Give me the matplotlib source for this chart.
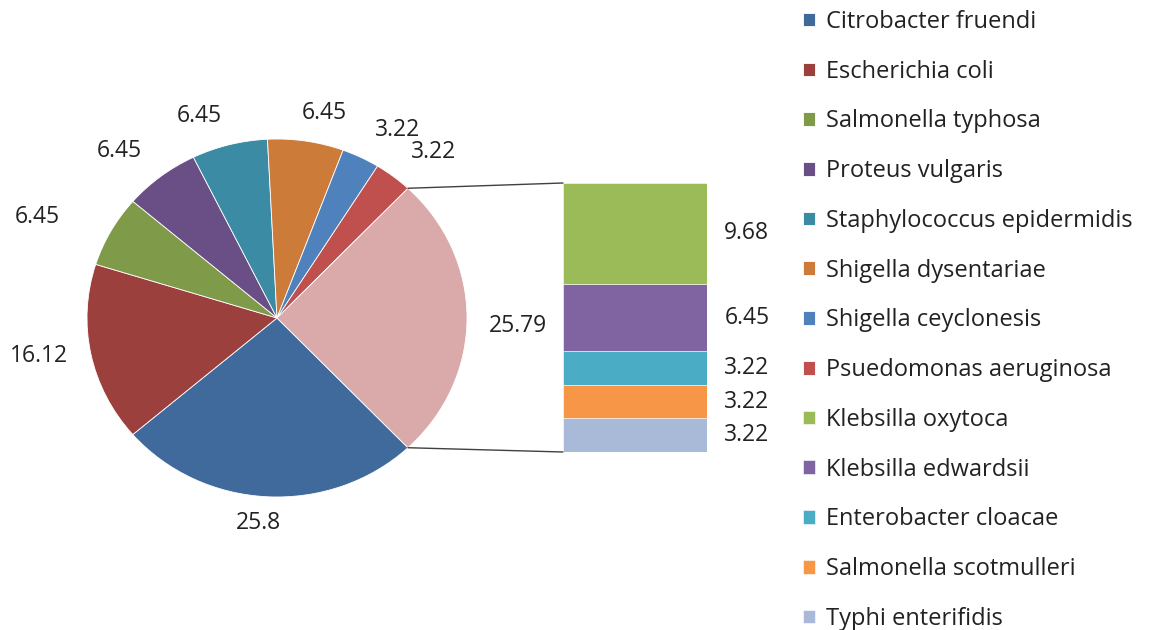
import matplotlib.pyplot as plt
import numpy as np
from matplotlib.patches import ConnectionPatch

plt.rcParams['font.family'] = ['Open Sans', 'DejaVu Sans']

# main pie slices (clockwise, Excel style)
pie_names = ['Citrobacter fruendi', 'Escherichia coli', 'Salmonella typhosa',
             'Proteus vulgaris', 'Staphylococcus epidermidis', 'Shigella dysentariae',
             'Shigella ceyclonesis', 'Psuedomonas aeruginosa']
pie_values = [25.8, 16.12, 6.45, 6.45, 6.45, 6.45, 3.22, 3.22]
pie_colors = ['#406A9C', '#9C403E', '#7F9A48', '#694F86',
              '#3A8BA3', '#CC7B39', '#4F81BD', '#C0504D']

# secondary stacked bar = the "other" slice
bar_names = ['Klebsilla oxytoca', 'Klebsilla edwardsii', 'Enterobacter cloacae',
             'Salmonella scotmulleri', 'Typhi enterifidis']
bar_values = [9.68, 6.45, 3.22, 3.22, 3.22]
bar_colors = ['#9BBB59', '#8064A2', '#4BACC6', '#F79646', '#A9B9D8']
other_color = '#DAA9AA'

# label placement tweaks (radius, angle shift in deg), last one is "other"
lab_r = [1.15, 1.27, 1.38, 1.25, 1.20, 1.17, 1.23, 1.24, 1.27]
lab_shift = [-2, -2, 5, 4, 5.5, -3.5, -5, -4, -2]

W, H = 1162, 630
fig = plt.figure(figsize=(W / 100, H / 100), dpi=100)

# pie is a bit wider than tall in the original
cx, cy, rx, ry = 277, 318, 190, 179
ax = fig.add_axes([(cx - rx) / W, 1 - (cy + ry) / H, 2 * rx / W, 2 * ry / H])

other = round(sum(bar_values), 2)
values = pie_values + [other]
colors = pie_colors + [other_color]
start = -other / sum(values) * 180
wedges, _ = ax.pie(values, colors=colors, startangle=start, counterclock=False,
                   radius=1, wedgeprops=dict(edgecolor='white', linewidth=0.6))
ax.set_aspect('auto')
ax.set_xlim(-1, 1)
ax.set_ylim(-1, 1)
ax.axis('off')

for i, w in enumerate(wedges):
    mid = np.deg2rad((w.theta1 + w.theta2) / 2 + lab_shift[i])
    ax.text(lab_r[i] * np.cos(mid), lab_r[i] * np.sin(mid), f'{values[i]:g}',
            ha='center', va='center', fontsize=16.5, color='#222222', clip_on=False)

# stacked bar
bx0, by0, bw, bh = 563, 183, 144, 269
ax2 = fig.add_axes([bx0 / W, 1 - (by0 + bh) / H, bw / W, bh / H])
bottom = 0
bar_patches = {}
for name, v, c in reversed(list(zip(bar_names, bar_values, bar_colors))):
    b = ax2.bar(0.5, v, bottom=bottom, width=1, color=c, edgecolor='white', linewidth=0.4)
    bar_patches[name] = b[0]
    ax2.text(1.12, bottom + v / 2, f'{v:g}', ha='left', va='center',
             fontsize=16.5, color='#222222', clip_on=False)
    bottom += v
ax2.set_xlim(0, 1)
ax2.set_ylim(0, other)
ax2.axis('off')

# connector lines from the "other" slice to the bar
ang = np.deg2rad(-start)
for sgn, yb in [(1, other), (-1, 0)]:
    con = ConnectionPatch(xyA=(np.cos(ang), sgn * np.sin(ang)), coordsA=ax.transData,
                          xyB=(0, yb), coordsB=ax2.transData, color='#404040', lw=1)
    fig.add_artist(con)

handles = list(wedges[:len(pie_names)]) + [bar_patches[n] for n in bar_names]
labels = pie_names + bar_names
fig.legend(handles, labels, loc='upper left', bbox_to_anchor=(803 / W, 1 - 10 / H),
           frameon=False, fontsize=17, handlelength=0.51, handleheight=0.51,
           handletextpad=0.47, labelspacing=1.09, borderpad=0, borderaxespad=0,
           labelcolor='#222222')

fig.savefig('out.png', dpi=100)
